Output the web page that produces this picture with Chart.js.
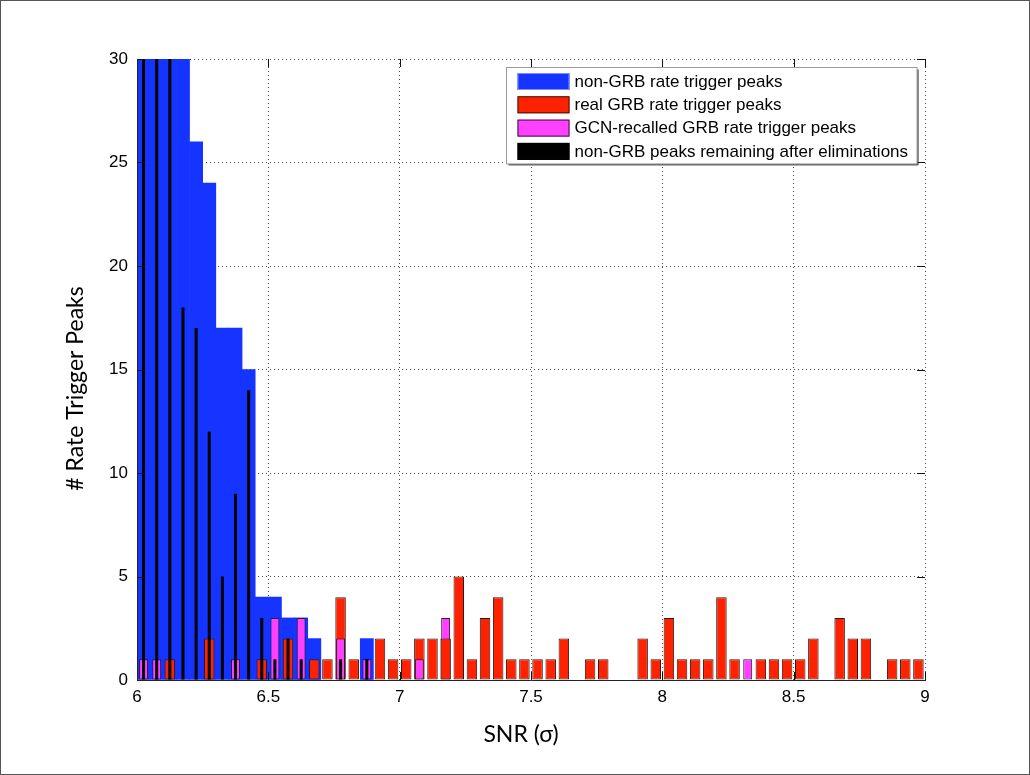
<!DOCTYPE html>
<html>
<head>
<meta charset="utf-8">
<script src="https://cdn.jsdelivr.net/npm/chart.js@4.4.0/dist/chart.umd.min.js"></script>
<style>
  html, body { margin: 0; padding: 0; background: #ffffff; }
  #wrap { width: 1030px; height: 775px; position: relative; }
  canvas { display: block; }
</style>
</head>
<body>
<div id="wrap"><canvas id="chart" width="1030" height="775"></canvas></div>
<script>
// SNR histogram bins (bin centres, 0.05 sigma wide)
const snrBins = [
  6.025, 6.075, 6.125, 6.175, 6.225, 6.275, 6.325, 6.375, 6.425, 6.475,
  6.525, 6.575, 6.625, 6.675, 6.725, 6.775, 6.825, 6.875, 6.925, 6.975,
  7.025, 7.075, 7.125, 7.175, 7.225, 7.275, 7.325, 7.375, 7.425, 7.475,
  7.525, 7.575, 7.625, 7.675, 7.725, 7.775, 7.825, 7.875, 7.925, 7.975,
  8.025, 8.075, 8.125, 8.175, 8.225, 8.275, 8.325, 8.375, 8.425, 8.475,
  8.525, 8.575, 8.625, 8.675, 8.725, 8.775, 8.825, 8.875, 8.925, 8.975
];

// counts per bin (the lowest bins run off the top of the axis and are shown at 30)
const nonGrbPeaks = [
  30, 30, 30, 30, 26, 24, 17, 17, 15, 4,
  4, 3, 3, 2, 0, 0, 0, 2, 0, 0,
  0, 0, 0, 0, 0, 0, 0, 0, 0, 0,
  0, 0, 0, 0, 0, 0, 0, 0, 0, 0,
  0, 0, 0, 0, 0, 0, 0, 0, 0, 0,
  0, 0, 0, 0, 0, 0, 0, 0, 0, 0
];
const realGrbPeaks = [
  0, 0, 1, 0, 0, 2, 0, 0, 0, 1,
  0, 2, 0, 1, 1, 4, 1, 0, 2, 1,
  1, 2, 2, 2, 5, 1, 3, 4, 1, 1,
  1, 1, 2, 0, 1, 1, 0, 0, 2, 1,
  3, 1, 1, 1, 4, 1, 0, 1, 1, 1,
  1, 2, 0, 3, 2, 2, 0, 1, 1, 1
];
const gcnRecalledPeaks = [
  1, 1, 0, 0, 0, 0, 0, 1, 0, 0,
  3, 0, 3, 0, 0, 2, 0, 1, 0, 0,
  0, 1, 0, 3, 0, 0, 0, 0, 0, 0,
  0, 0, 0, 0, 0, 0, 0, 0, 0, 0,
  0, 0, 0, 0, 0, 0, 1, 0, 0, 0,
  0, 0, 0, 0, 0, 0, 0, 0, 0, 0
];
const remainingPeaks = [
  30, 30, 30, 18, 17, 12, 5, 9, 14, 3,
  1, 2, 1, 0, 0, 1, 0, 1, 0, 0,
  0, 0, 0, 0, 0, 0, 0, 0, 0, 0,
  0, 0, 0, 0, 0, 0, 0, 0, 0, 0,
  0, 0, 0, 0, 0, 0, 0, 0, 0, 0,
  0, 0, 0, 0, 0, 0, 0, 0, 0, 0
];

const xTicks = [6, 6.5, 7, 7.5, 8, 8.5, 9];
const yTicks = [0, 5, 10, 15, 20, 25, 30];

const seriesLabels = [
  'non-GRB rate trigger peaks',
  'real GRB rate trigger peaks',
  'GCN-recalled GRB rate trigger peaks',
  'non-GRB peaks remaining after eliminations'
];

const BLUE = '#1634ff';
const RED = '#ff2200';
const MAGENTA = '#ff40ff';
const BLACK = '#000000';

const toPoints = vals => snrBins.map((x, i) => ({ x, y: vals[i] > 0 ? vals[i] : null }));

// at each bin the taller of the red / magenta bars sits behind the shorter one
const realBack = realGrbPeaks.map((v, i) => (v >= gcnRecalledPeaks[i] ? v : 0));
const gcnBack = gcnRecalledPeaks.map((v, i) => (v > realGrbPeaks[i] ? v : 0));
const realFront = realGrbPeaks.map((v, i) => (v < gcnRecalledPeaks[i] ? v : 0));
const gcnFront = gcnRecalledPeaks.map((v, i) => (v <= realGrbPeaks[i] ? v : 0));

const barBase = { grouped: false, categoryPercentage: 1, borderSkipped: false };

const datasets = [
  { ...barBase, label: seriesLabels[3], data: toPoints(remainingPeaks), backgroundColor: BLACK,
    borderWidth: 0, barPercentage: 0.23, order: 0 },
  { ...barBase, label: seriesLabels[1] + ' (front)', data: toPoints(realFront), backgroundColor: RED,
    borderColor: '#2a1a1a', borderWidth: 1, barPercentage: 0.8, order: 1 },
  { ...barBase, label: seriesLabels[2] + ' (front)', data: toPoints(gcnFront), backgroundColor: MAGENTA,
    borderColor: '#2a1a2a', borderWidth: 1, barPercentage: 0.68, order: 1 },
  { ...barBase, label: seriesLabels[1], data: toPoints(realBack), backgroundColor: RED,
    borderColor: '#2a1a1a', borderWidth: 1, barPercentage: 0.8, order: 2 },
  { ...barBase, label: seriesLabels[2], data: toPoints(gcnBack), backgroundColor: MAGENTA,
    borderColor: '#2a1a2a', borderWidth: 1, barPercentage: 0.68, order: 2 },
  { ...barBase, label: seriesLabels[0], data: toPoints(nonGrbPeaks), backgroundColor: BLUE,
    borderWidth: 0, barPercentage: 1, order: 3 }
];

const legendEntries = [
  { text: seriesLabels[0], fill: BLUE, stroke: '#7d8cff' },
  { text: seriesLabels[1], fill: RED, stroke: '#3a1a10' },
  { text: seriesLabels[2], fill: MAGENTA, stroke: '#3a1a3a' },
  { text: seriesLabels[3], fill: BLACK, stroke: '#000000' }
];

// inward tick marks on all four sides of the axes box
const boxTicks = {
  id: 'boxTicks',
  afterDatasetsDraw(chart) {
    const { ctx, chartArea: a, scales } = chart;
    const len = 8;
    ctx.save();
    ctx.strokeStyle = '#111';
    ctx.lineWidth = 1;
    ctx.beginPath();
    xTicks.forEach(v => {
      const px = Math.round(scales.x.getPixelForValue(v)) + 0.5;
      ctx.moveTo(px, a.bottom); ctx.lineTo(px, a.bottom - len);
      ctx.moveTo(px, a.top); ctx.lineTo(px, a.top + len);
    });
    yTicks.forEach(v => {
      const py = Math.round(scales.y.getPixelForValue(v)) + 0.5;
      ctx.moveTo(a.left, py); ctx.lineTo(a.left + len, py);
      ctx.moveTo(a.right, py); ctx.lineTo(a.right - len, py);
    });
    ctx.stroke();
    ctx.restore();
  }
};

// boxed legend in the upper right of the plot
const boxLegend = {
  id: 'boxLegend',
  afterDraw(chart) {
    const { ctx, chartArea: a } = chart;
    ctx.save();
    ctx.font = '17px "Liberation Sans", Arial, sans-serif';
    const textW = Math.max(...legendEntries.map(e => ctx.measureText(e.text).width));
    const padL = 11, sw = 52, sh = 17, gap = 5, padR = 9, rowH = 23.3, padT = 5.5, padB = 4;
    const w = padL + sw + gap + textW + padR;
    const h = padT + rowH * (legendEntries.length - 1) + sh + padB;
    const x0 = Math.round(a.right - 8 - w) + 0.5;
    const y0 = Math.round(a.top + 8) + 0.5;
    ctx.fillStyle = '#ffffff';
    ctx.fillRect(x0, y0, w, h);
    ctx.strokeStyle = '#9a9a9a';
    ctx.lineWidth = 1;
    ctx.strokeRect(x0, y0, w, h);
    ctx.strokeStyle = '#333';
    ctx.beginPath();
    ctx.moveTo(x0 + w + 1, y0 + 2); ctx.lineTo(x0 + w + 1, y0 + h + 1); ctx.lineTo(x0 + 2, y0 + h + 1);
    ctx.stroke();
    legendEntries.forEach((e, i) => {
      const sy = y0 + padT + i * rowH;
      ctx.fillStyle = e.fill;
      ctx.fillRect(x0 + padL, sy, sw, sh);
      ctx.strokeStyle = e.stroke;
      ctx.strokeRect(x0 + padL + 0.5, sy + 0.5, sw - 1, sh - 1);
      ctx.fillStyle = '#000';
      ctx.textBaseline = 'middle';
      ctx.textAlign = 'left';
      ctx.fillText(e.text, x0 + padL + sw + gap, sy + sh / 2 + 0.5);
    });
    ctx.restore();
  }
};

// axis titles and the outer frame
const titlesAndFrame = {
  id: 'titlesAndFrame',
  afterDraw(chart) {
    const { ctx, chartArea: a, width, height } = chart;
    ctx.save();
    ctx.fillStyle = '#000';
    ctx.font = '23px Lato, "Open Sans", sans-serif';
    ctx.textAlign = 'center';
    ctx.textBaseline = 'alphabetic';
    ctx.fillText('SNR (\u03C3)', (a.left + a.right) / 2 - 10, 742);
    ctx.translate(83, (a.top + a.bottom) / 2 + 19);
    ctx.rotate(-Math.PI / 2);
    ctx.fillText('# Rate Trigger Peaks', 0, 0);
    ctx.restore();
    ctx.save();
    ctx.strokeStyle = '#555';
    ctx.lineWidth = 1;
    ctx.strokeRect(0.5, 0.5, width - 1, height - 1);
    ctx.restore();
  }
};

const tickFont = { family: '"Liberation Sans", Arial, sans-serif', size: 17 };

new Chart(document.getElementById('chart'), {
  type: 'bar',
  data: { datasets },
  options: {
    responsive: false,
    animation: false,
    devicePixelRatio: 1,
    layout: { padding: { left: 0, top: 59, right: 105, bottom: 0 } },
    plugins: { legend: { display: false }, tooltip: { enabled: false } },
    scales: {
      x: {
        type: 'linear',
        min: 6, max: 9,
        offset: false,
        afterFit: s => { s.height = 95; },
        afterBuildTicks: s => { s.ticks = xTicks.map(v => ({ value: v })); },
        ticks: { color: '#000', font: tickFont, padding: 7, callback: v => String(v), maxRotation: 0 },
        grid: { offset: false, color: '#4a4a4a', lineWidth: 1, drawTicks: false },
        border: { display: true, color: '#222', dash: [1, 3], z: 1 }
      },
      y: {
        type: 'linear',
        min: 0, max: 30,
        afterFit: s => { s.width = 137; },
        afterBuildTicks: s => { s.ticks = yTicks.map(v => ({ value: v })); },
        ticks: { color: '#000', font: tickFont, padding: 9 },
        grid: { color: '#4a4a4a', lineWidth: 1, drawTicks: false },
        border: { display: true, color: '#222', dash: [1, 3], z: 1 }
      }
    }
  },
  plugins: [boxTicks, boxLegend, titlesAndFrame]
});
</script>
</body>
</html>
